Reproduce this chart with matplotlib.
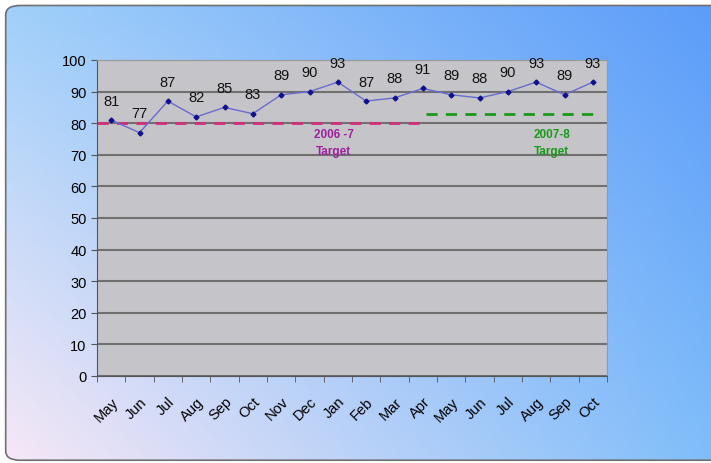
import numpy as np
import matplotlib
matplotlib.use('Agg')
import matplotlib.pyplot as plt
from matplotlib.patches import FancyBboxPatch

plt.rcParams['font.family'] = ['Liberation Sans', 'DejaVu Sans']

# monthly scores, May 2006 - Oct 2007
months = ['May', 'Jun', 'Jul', 'Aug', 'Sep', 'Oct', 'Nov', 'Dec', 'Jan', 'Feb', 'Mar', 'Apr',
          'May', 'Jun', 'Jul', 'Aug', 'Sep', 'Oct']
scores = [81, 77, 87, 82, 85, 83, 89, 90, 93, 87, 88, 91, 89, 88, 90, 93, 89, 93]
target_0607 = 80
target_0708 = 83

fig = plt.figure(figsize=(7.11, 4.64), dpi=100)

# gradient panel behind the chart
bg = fig.add_axes([0, 0, 1, 1])
bg.set_xlim(0, 1)
bg.set_ylim(0, 1)
bg.axis('off')
tl = np.array([160, 208, 250]) / 255
tr = np.array([92, 156, 250]) / 255
bl = np.array([248, 232, 246]) / 255
br = np.array([128, 190, 250]) / 255
u = np.linspace(0, 1, 300)[None, :, None]
v = np.linspace(0, 1, 200)[:, None, None]
grad = (1 - v) * ((1 - u) * tl + u * tr) + v * ((1 - u) * bl + u * br)
panel = FancyBboxPatch((0.008, 0.006), 1.1, 0.98, boxstyle='round,pad=0,rounding_size=0.02',
                       transform=bg.transAxes, facecolor='none', edgecolor='#707070', lw=1.2)
bg.add_patch(panel)
img = bg.imshow(grad, extent=[0, 1, 0, 1], aspect='auto', origin='upper', zorder=0)
img.set_clip_path(panel)

ax = fig.add_axes([97 / 711, 1 - 377 / 464, 510 / 711, 316 / 464])
ax.set_facecolor('#c5c4c8')
x = np.arange(len(months))

ax.plot(x, scores, color='#6a6ad0', lw=1, marker='D', markersize=2.5,
        markerfacecolor='#10108a', markeredgecolor='#10108a', zorder=3)
for xi, s in zip(x, scores):
    ax.annotate(str(s), (xi, s), xytext=(0, 9), textcoords='offset points',
                ha='center', va='bottom', fontsize=10.5, color='#111111')

ax.plot([-0.5, 10.9], [target_0607] * 2, color='#d0307a', lw=2, dashes=(4, 3), zorder=2)
ax.plot([11.1, 17], [target_0708] * 2, color='#1a9a1a', lw=2, dashes=(4, 3), zorder=2)
ax.text(7.85, 78.6, '2006 -7\nTarget', color='#a020a0', fontsize=8.5, fontweight='bold',
        ha='center', va='top', linespacing=1.6)
ax.text(15.55, 78.6, '2007-8\nTarget', color='#1a9a1a', fontsize=8.5, fontweight='bold',
        ha='center', va='top', linespacing=1.6)

ax.set_ylim(0, 100)
ax.set_xlim(-0.5, 17.5)
ax.set_yticks(range(0, 101, 10))
ax.yaxis.grid(True, color='#707070', lw=1.5)
ax.set_axisbelow(True)
ax.set_xticks(x)
ax.set_xticklabels(months, rotation=45, ha='right', rotation_mode='anchor', fontsize=10.5)
ax.set_xticks(np.arange(-0.5, 18, 1), minor=True)
ax.tick_params(axis='x', which='major', length=0, pad=13)
ax.tick_params(axis='x', which='minor', length=4, color='#555555')
ax.tick_params(axis='y', length=4, color='#555555', labelsize=10.5)
for side in ['top', 'right']:
    ax.spines[side].set_color('#9a9a9a')
for side in ['left', 'bottom']:
    ax.spines[side].set_color('#555555')

fig.savefig('out.png', dpi=100)
